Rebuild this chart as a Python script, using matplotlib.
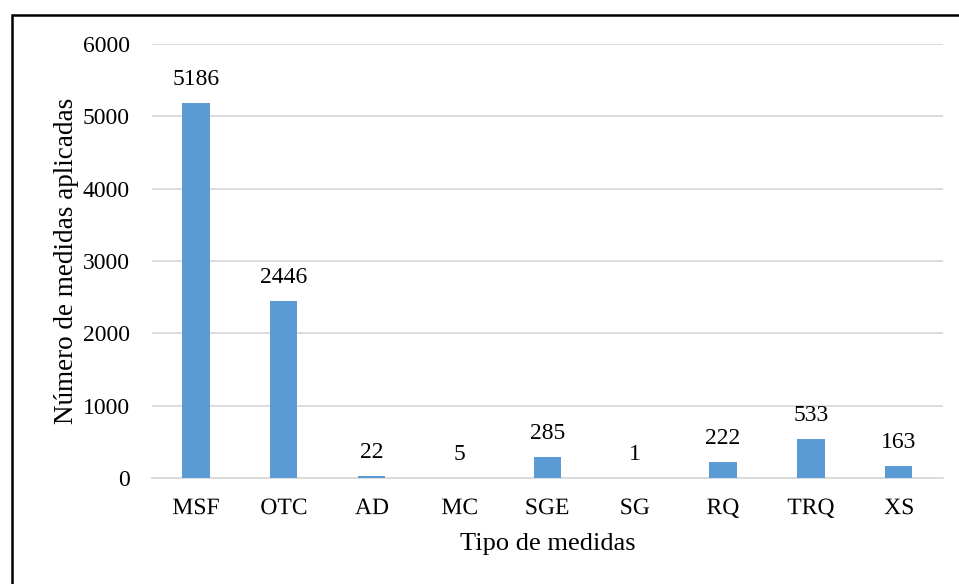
import matplotlib
matplotlib.use("Agg")
import matplotlib.pyplot as plt
from matplotlib.patches import Rectangle, PathPatch
from matplotlib.textpath import TextPath
from matplotlib.font_manager import FontProperties
from matplotlib.transforms import Affine2D

categories = ["MSF", "OTC", "AD", "MC", "SGE", "SG", "RQ", "TRQ", "XS"]
values = [5186, 2446, 22, 5, 285, 1, 222, 533, 163]
yticks = [0, 1000, 2000, 3000, 4000, 5000, 6000]

plt.rcParams["font.family"] = ["Liberation Serif", "DejaVu Serif"]

fig = plt.figure(figsize=(9.59, 5.84), dpi=100)
ax = fig.add_axes([0.1585, 0.1815, 0.8245, 0.7432])

x = range(len(categories))
ax.bar(x, values, width=0.31, color="#5b9bd5", zorder=3)
for xi, v in zip(x, values):
    ax.annotate(f"{v}", (xi, v), xytext=(0, 13), textcoords="offset points",
                ha="center", va="baseline", fontsize=17)

ax.set_xlim(-0.5, len(categories) - 0.5)
ax.set_ylim(0, 6000)
ax.set_yticks(yticks)
ax.set_xticks(list(x))
ax.set_xticklabels([])
ax.tick_params(axis="both", length=0, labelsize=17)
ax.tick_params(axis="y", pad=16)
ax.grid(axis="y", color="#d9d9d9", linewidth=1.3, zorder=0)
for s in ["top", "right", "left"]:
    ax.spines[s].set_visible(False)
ax.spines["bottom"].set_color("#d9d9d9")
ax.spines["bottom"].set_linewidth(1.3)

# category labels as glyph paths on one common baseline
# (Agg text drops labels with a Q a few pixels lower)
fp = FontProperties(family="Liberation Serif", size=17)
for xi, cat in zip(x, categories):
    tp = TextPath((0, 0), cat, prop=fp)
    bb = tp.get_extents()
    px, py = ax.transData.transform((xi, 0))
    tr = Affine2D().translate(-(bb.x0 + bb.x1) / 2, -26).scale(fig.dpi / 72).translate(px, py)
    fig.add_artist(PathPatch(tp, transform=tr, facecolor="black", edgecolor="none"))

ax.set_xlabel("Tipo de medidas", fontsize=19, va="center")
ax.set_ylabel("Número de medidas aplicadas", fontsize=19.5, va="center")
ax.xaxis.set_label_coords(0.5, -0.152)
ax.yaxis.set_label_coords(-0.1087, 0.5)

# outer frame (only top and left edges fall inside the image)
fig.patches.append(Rectangle((12 / 959, -0.2), 1.2, 1.2 - 15 / 584, transform=fig.transFigure,
                             fill=False, edgecolor="black", linewidth=1.8))

fig.savefig("out.png", dpi=100)
